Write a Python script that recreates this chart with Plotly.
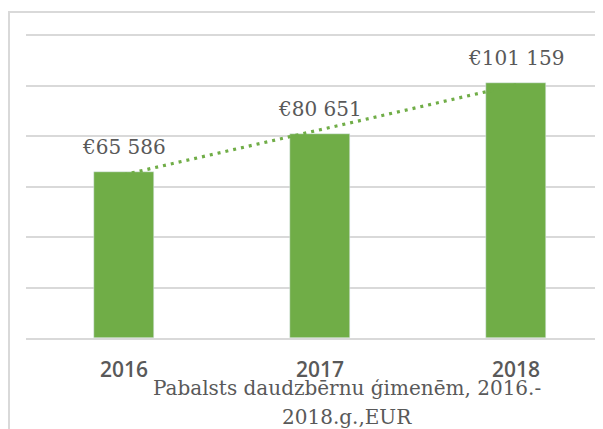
import numpy as np
import plotly.graph_objects as go

years = ["2016", "2017", "2018"]
values = [65586, 80651, 101159]
label_texts = ["€65 586", "€80 651", "€101 159"]
title_lines = ["Pabalsts daudzbērnu ģimenēm, 2016.-", "2018.g.,EUR"]

OFF = 8  # page body margin
W, H = 603, 429
BASE = 338 - OFF          # axis baseline in figure px
TOPGRID = 35 - OFF        # 120000 gridline in figure px
ML, MR = 26 - OFF, 0
MT = TOPGRID - 3
MB = H - BASE
PW = W - ML - MR
PH = H - MT - MB
UNIT_PX = (BASE - TOPGRID) / 120000.0
YMAX = PH / UNIT_PX

def px_x(px):
    return (px - OFF - ML) / PW

def px_y(py):
    return (BASE - (py - OFF)) / PH

# linear trendline fitted to the data (Excel-style)
idx = np.arange(len(values))
slope, intercept = np.polyfit(idx, values, 1)
trend = slope * idx + intercept

GREEN = "#70ad47"
GREY_TXT = "#595959"
GRID = "#d9d9d9"

fig = go.Figure()
fig.add_trace(go.Bar(x=years, y=values, marker_color=GREEN, width=0.306,
                     hoverinfo="skip", showlegend=False))
fig.add_trace(go.Scatter(x=years, y=trend, mode="lines",
                         line=dict(color=GREEN, width=3.2, dash="3px,5px"),
                         hoverinfo="skip", showlegend=False))

for i, (v, t) in enumerate(zip(values, label_texts)):
    fig.add_annotation(x=i, y=v, text=t, showarrow=False, yanchor="bottom",
                       yshift=11,
                       font=dict(family="DejaVu Serif", size=20, color=GREY_TXT))

fig.add_annotation(xref="paper", yref="paper", x=px_x(347), y=px_y(388),
                   text=title_lines[0], showarrow=False, xanchor="center", yanchor="middle",
                   font=dict(family="DejaVu Serif", size=20, color=GREY_TXT))
fig.add_annotation(xref="paper", yref="paper", x=px_x(347), y=px_y(417),
                   text=title_lines[1], showarrow=False, xanchor="center", yanchor="middle",
                   font=dict(family="DejaVu Serif", size=20, color=GREY_TXT))

# chart frame
fig.add_shape(type="rect", xref="paper", yref="paper",
              x0=px_x(9), x1=px_x(660), y0=px_y(480), y1=px_y(12),
              line=dict(color=GRID, width=2), layer="below")

fig.update_layout(
    width=W, height=H,
    margin=dict(l=ML, r=MR, t=MT, b=MB),
    paper_bgcolor="white", plot_bgcolor="white",
    bargap=0,
    xaxis=dict(type="category", range=[-0.5, -0.5 + PW / 196.0],
               showgrid=False, showline=True, linecolor=GRID, linewidth=1.5,
               ticks="", zeroline=False, fixedrange=True,
               tickfont=dict(family="Open Sans", size=21, color=GREY_TXT, weight=600),
               ticklabelstandoff=12),
    yaxis=dict(range=[0, YMAX], tick0=0, dtick=20000, showticklabels=False,
               showgrid=True, gridcolor=GRID, gridwidth=1.5, zeroline=False,
               showline=False, ticks="", fixedrange=True),
)

fig.write_html("out.html")
